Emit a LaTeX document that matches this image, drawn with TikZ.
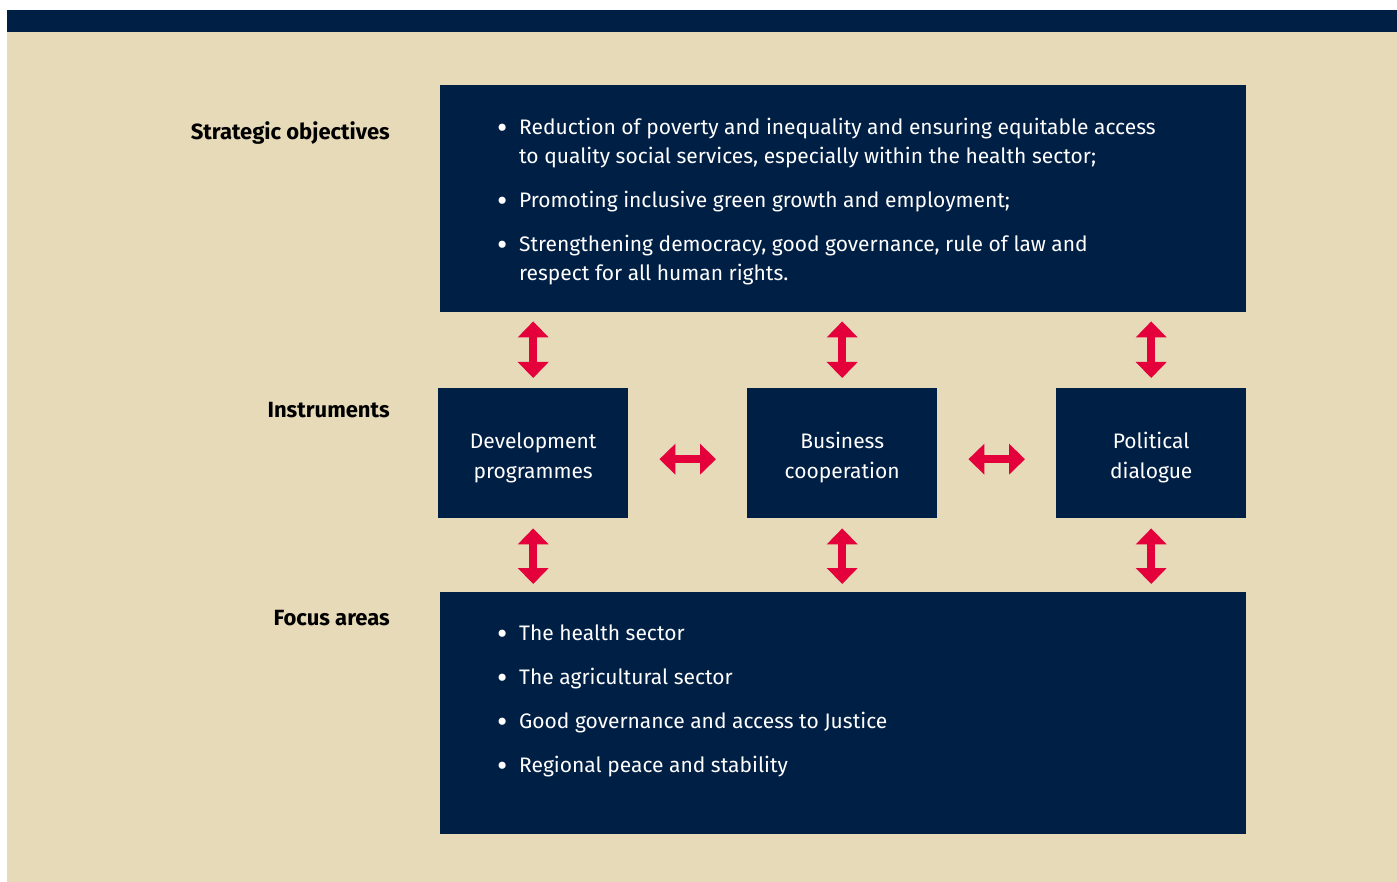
\documentclass[tikz,border=0pt]{standalone}
\usepackage{fontspec}
\usepackage{graphicx}
\setmainfont{Fira Sans}
\usetikzlibrary{arrows.meta}
\definecolor{navy}{HTML}{001F45}
\definecolor{sand}{HTML}{E6DAB8}
\definecolor{signal}{HTML}{E4003B}
\tikzset{
  darkbox/.style={fill=navy, draw=none, inner sep=0pt, anchor=north west},
  boxtext/.style={text=white, align=center, text height=50pt, text depth=0pt, font=\fontsize{21}{30}\selectfont},
  listtext/.style={text=white, align=left, anchor=north west, inner sep=0pt, font=\fontsize{21}{29}\selectfont},
  rowlabel/.style={anchor=east, inner sep=0pt, font=\fontsize{22}{26}\selectfont\bfseries},
  link/.style={signal, line width=7.5pt, {Triangle[width=30pt,length=16pt]}-{Triangle[width=30pt,length=16pt]}}
}
\newcommand\bul{\makebox[22pt][l]{\raisebox{-3.8pt}{\scalebox{1.5}{\textbullet}}}}
\newcommand\ind{\hspace*{22pt}}

\begin{document}
\begin{tikzpicture}[x=1pt,y=-1pt]
			%%%%% START %%%%%
			\useasboundingbox (0,0) rectangle (1397,882);
			\fill[sand] (7,32) rectangle (1397,882);
			\fill[navy] (7,10) rectangle (1397,32);
			
			% rows
			\node[rowlabel] (lblobj) at (390,133) {Strategic objectives};
			\node[rowlabel] (lblins) at (390,410) {Instruments};
			\node[rowlabel] (lblfoc) at (390,618) {Focus areas};
			
			% objectives
			\node[darkbox, minimum width=806pt, minimum height=227pt] (strat) at (440,85) {};
			\node[listtext] (stratlist) at (497,118) {%
				\bul Reduction of poverty and inequality and ensuring equitable access\\
				\ind to quality social services, especially within the health sector;\\[15pt]
				\bul Promoting inclusive green growth and employment;\\[15pt]
				\bul Strengthening democracy, good governance, rule of law and\\
				\ind respect for all human rights.};
			
			% instruments
			\node[darkbox, boxtext, minimum width=190pt, minimum height=130pt] (dev) at (438,388) {Development\\programmes};
			\node[darkbox, boxtext, minimum width=190pt, minimum height=130pt] (bus) at (747,388) {Business\\cooperation};
			\node[darkbox, boxtext, minimum width=190pt, minimum height=130pt] (pol) at (1056,388) {Political\\dialogue};
			
			% focus areas
			\node[darkbox, minimum width=806pt, minimum height=242pt] (focus) at (440,592) {};
			\node[listtext] (focuslist) at (497,625) {%
				\bul The health sector\\[15pt]
				\bul The agricultural sector\\[15pt]
				\bul Good governance and access to Justice\\[15pt]
				\bul Regional peace and stability};
			
			% links
			\draw[link, shorten <=10pt, shorten >=9pt] (dev.north) -- (dev.north |- strat.south);
			\draw[link, shorten <=10pt, shorten >=9pt] (bus.north) -- (bus.north |- strat.south);
			\draw[link, shorten <=10pt, shorten >=9pt] (pol.north) -- (pol.north |- strat.south);
			
			\draw[link, shorten <=31pt, shorten >=31pt] ([yshift=-6pt]dev.east) -- ([yshift=-6pt]bus.west);
			\draw[link, shorten <=31pt, shorten >=31pt] ([yshift=-6pt]bus.east) -- ([yshift=-6pt]pol.west);
			
			\draw[link, shorten <=10pt, shorten >=8pt] (dev.south) -- (dev.south |- focus.north);
			\draw[link, shorten <=10pt, shorten >=8pt] (bus.south) -- (bus.south |- focus.north);
			\draw[link, shorten <=10pt, shorten >=8pt] (pol.south) -- (pol.south |- focus.north);
			%%%%% END %%%%%
\end{tikzpicture}
\end{document}
